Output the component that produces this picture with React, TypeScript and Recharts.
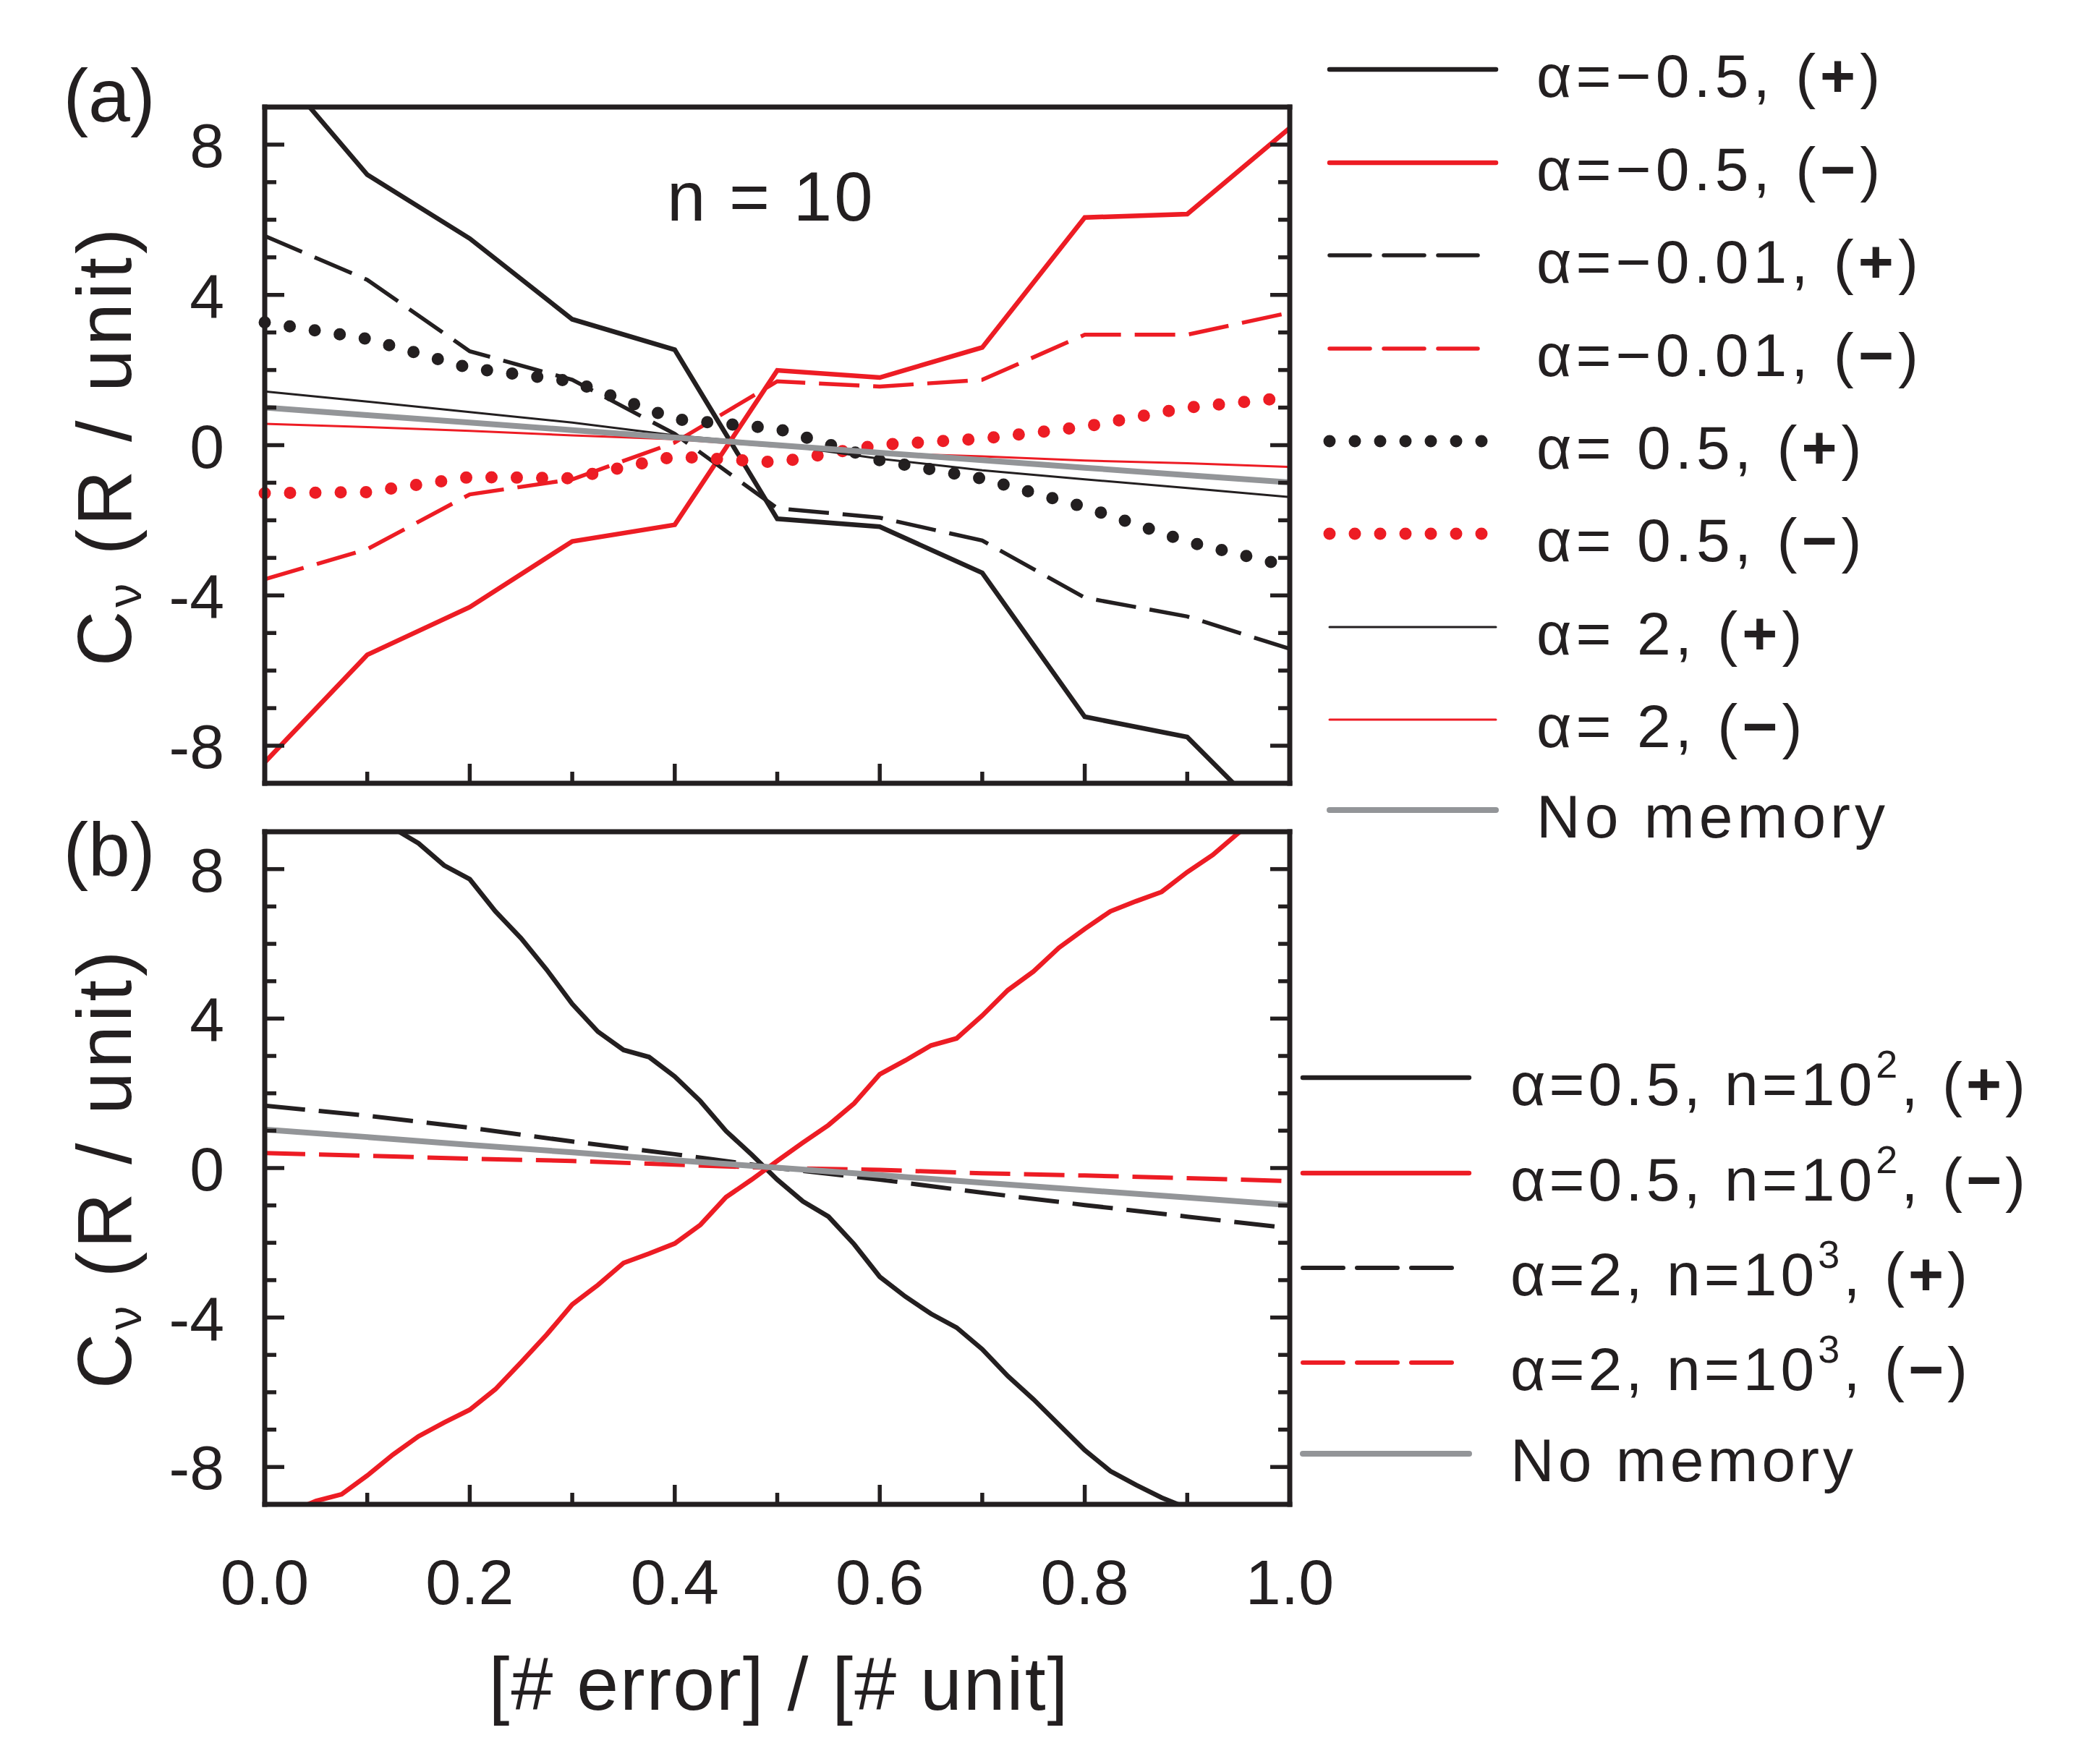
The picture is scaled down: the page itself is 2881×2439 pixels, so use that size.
import React from "react";
import { LineChart, Line, XAxis, YAxis } from "recharts";

const INK = "#231f20";
const RED = "#ed1c24";
const GRAY = "#939598";
const FONT = "'Liberation Sans', Arial, Helvetica, sans-serif";

// ---- panel (a): n = 10 ----
const xA = [0, 0.1, 0.2, 0.3, 0.4, 0.5, 0.6, 0.7, 0.8, 0.9, 1.0];
const aNegHalfPlus = [10.4, 7.2, 5.5, 3.35, 2.54, -1.96, -2.17, -3.4, -7.23, -7.77, -10.5];
const aNegHalfMinus = [-8.44, -5.58, -4.31, -2.56, -2.12, 1.99, 1.8, 2.6, 6.06, 6.15, 8.44];
const aNegSmallPlus = [5.57, 4.4, 2.5, 1.74, 0.3, -1.68, -1.93, -2.54, -4.06, -4.56, -5.42];
const aNegSmallMinus = [-3.57, -2.77, -1.31, -0.91, 0.07, 1.7, 1.56, 1.74, 2.94, 2.94, 3.53];
const aHalfPlus = [3.27, 2.83, 2.05, 1.7, 0.69, 0.44, -0.4, -0.89, -1.65, -2.57, -3.23];
const aHalfMinus = [-1.28, -1.25, -0.85, -0.88, -0.3, -0.46, 0.01, 0.17, 0.49, 1.0, 1.27];
const aTwoPlus = [1.43, 1.16, 0.88, 0.6, 0.26, 0.02, -0.36, -0.67, -0.91, -1.14, -1.38];
const aTwoMinus = [0.57, 0.48, 0.38, 0.26, 0.16, -0.04, -0.21, -0.3, -0.41, -0.48, -0.58];
const aNoMemory = [1.0, 0.8, 0.6, 0.4, 0.2, 0.0, -0.2, -0.4, -0.6, -0.8, -0.99];

// ---- panel (b) ----
const xB = [
  0, 0.025, 0.05, 0.075, 0.1, 0.125, 0.15, 0.175, 0.2, 0.225, 0.25, 0.275, 0.3, 0.325,
  0.35, 0.375, 0.4, 0.425, 0.45, 0.475, 0.5, 0.525, 0.55, 0.575, 0.6, 0.625, 0.65, 0.675,
  0.7, 0.725, 0.75, 0.775, 0.8, 0.825, 0.85, 0.875, 0.9, 0.925, 0.95, 0.975, 1.0,
];
const bHalfPlus = [
  11.0, 10.6, 10.3, 9.9, 9.5, 9.1, 8.69, 8.1, 7.73, 6.87, 6.15, 5.31, 4.39, 3.65,
  3.16, 2.97, 2.45, 1.79, 0.99, 0.36, -0.31, -0.89, -1.3, -2.04, -2.91, -3.44, -3.9, -4.27,
  -4.85, -5.57, -6.19, -6.87, -7.55, -8.11, -8.48, -8.82, -9.1, -9.4, -9.7, -10.0, -10.3,
];
const bHalfMinus = [
  -9.5, -9.2, -8.91, -8.73, -8.23, -7.67, -7.18, -6.81, -6.47, -5.92, -5.2, -4.46, -3.65, -3.13,
  -2.54, -2.29, -2.02, -1.52, -0.78, -0.31, 0.19, 0.68, 1.15, 1.73, 2.51, 2.88, 3.28, 3.47,
  4.08, 4.76, 5.26, 5.9, 6.4, 6.87, 7.14, 7.39, 7.92, 8.38, 8.97, 9.4, 9.9,
];
const xB2 = [0, 0.1, 0.2, 0.3, 0.4, 0.5, 0.6, 0.7, 0.8, 0.9, 1.0];
const bTwoPlus = [1.67, 1.4, 1.08, 0.71, 0.37, 0.0, -0.31, -0.66, -0.99, -1.3, -1.61];
const bTwoMinus = [0.4, 0.33, 0.25, 0.19, 0.09, 0.0, -0.05, -0.14, -0.2, -0.27, -0.35];
const bNoMemory = [1.03, 0.83, 0.62, 0.42, 0.21, 0.01, -0.19, -0.39, -0.59, -0.79, -0.99];

const xTicks = [0, 0.1, 0.2, 0.3, 0.4, 0.5, 0.6, 0.7, 0.8, 0.9, 1.0];
const yTicks = [-8, -7, -6, -5, -4, -3, -2, -1, 0, 1, 2, 3, 4, 5, 6, 7, 8];

const legendA = [
  "α=−0.5, (+)", "α=−0.5, (−)", "α=−0.01, (+)", "α=−0.01, (−)",
  "α= 0.5, (+)", "α= 0.5, (−)", "α= 2, (+)", "α= 2, (−)", "No memory",
];
const legendB = [
  "α=0.5, n=10^2, (+)", "α=0.5, n=10^2, (−)", "α=2, n=10^3, (+)", "α=2, n=10^3, (−)", "No memory",
];

// line looks
const solid = (c: string, w = 6.5) => ({ stroke: c, strokeWidth: w });
const dashed = (c: string, w = 5.5) => ({ stroke: c, strokeWidth: w, strokeDasharray: "56 19" });
const dotted = (c: string) => ({ stroke: c, strokeWidth: 17, strokeDasharray: "0 35", strokeLinecap: "round" as const });

const pts = (xs: number[], ys: number[]) => xs.map((x, i) => ({ x, y: ys[i] }));

const seriesA = [
  { data: pts(xA, aNegHalfPlus), look: solid(INK) },
  { data: pts(xA, aNegHalfMinus), look: solid(RED) },
  { data: pts(xA, aNegSmallPlus), look: dashed(INK) },
  { data: pts(xA, aNegSmallMinus), look: dashed(RED) },
  { data: pts(xA, aHalfPlus), look: dotted(INK) },
  { data: pts(xA, aHalfMinus), look: dotted(RED) },
  { data: pts(xA, aTwoPlus), look: solid(INK, 3) },
  { data: pts(xA, aTwoMinus), look: solid(RED, 3) },
  { data: pts(xA, aNoMemory), look: solid(GRAY, 8) },
];

const seriesB = [
  { data: pts(xB, bHalfPlus), look: solid(INK, 6.5) },
  { data: pts(xB, bHalfMinus), look: solid(RED, 6.5) },
  { data: pts(xB2, bTwoPlus), look: dashed(INK, 6) },
  { data: pts(xB2, bTwoMinus), look: dashed(RED, 6) },
  { data: pts(xB2, bNoMemory), look: solid(GRAY, 8) },
];

const MAJOR = 27;
const MINOR = 16;
const tickLook = { stroke: INK, strokeWidth: 5.5 };
const isMajorX = (v: number) => Math.abs(v * 5 - Math.round(v * 5)) < 1e-6;
const isMajorY = (v: number) => v % 4 === 0;

const bottomTick = (labels: boolean) => (p: any) => {
  const v = p.payload.value;
  const major = isMajorX(v);
  return (
    <g>
      <line x1={p.x} x2={p.x} y1={p.y} y2={p.y - (major ? MAJOR : MINOR)} {...tickLook} />
      {labels && major && (
        <text x={p.x} y={p.y + 138} textAnchor="middle" fontSize={88} fill={INK} fontFamily={FONT}>
          {v.toFixed(1)}
        </text>
      )}
    </g>
  );
};

const topTick = (p: any) => {
  const major = isMajorX(p.payload.value);
  return <line x1={p.x} x2={p.x} y1={p.y} y2={p.y + (major ? MAJOR : MINOR)} {...tickLook} />;
};

const leftTick = (p: any) => {
  const v = p.payload.value;
  const major = isMajorY(v);
  return (
    <g>
      <line x1={p.x} x2={p.x + (major ? MAJOR : MINOR)} y1={p.y} y2={p.y} {...tickLook} />
      {major && (
        <text x={p.x - 56} y={p.y + 31} textAnchor="end" fontSize={86} fill={INK} fontFamily={FONT}>
          {String(v)}
        </text>
      )}
    </g>
  );
};

const rightTick = (p: any) => {
  const major = isMajorY(p.payload.value);
  return <line x1={p.x} x2={p.x - (major ? MAJOR : MINOR)} y1={p.y} y2={p.y} {...tickLook} />;
};

const frame = { stroke: INK, strokeWidth: 7, strokeLinecap: "square" as const };

// axes get 1px of room each (a zero-size axis is not drawn), margins make up the rest
const Panel = ({ series, height, top, marginTop, marginBottom, labels }: any) => (
  <div style={{ position: "absolute", left: 0, top }}>
    <LineChart
      width={2881}
      height={height}
      margin={{ top: marginTop - 1, bottom: marginBottom - 1, left: 365, right: 1097 }}
    >
      <XAxis xAxisId="b" dataKey="x" type="number" domain={[0, 1]} ticks={xTicks} interval={0}
        height={1} tickSize={0} tickMargin={0} tickLine={false} axisLine={frame} tick={bottomTick(labels)} />
      <XAxis xAxisId="t" orientation="top" dataKey="x" type="number" domain={[0, 1]} ticks={xTicks} interval={0}
        height={1} tickSize={0} tickMargin={0} tickLine={false} axisLine={frame} tick={topTick} />
      <YAxis yAxisId="l" type="number" domain={[-9, 9]} allowDataOverflow ticks={yTicks} interval={0}
        width={1} tickSize={0} tickMargin={0} tickLine={false} axisLine={frame} tick={leftTick} />
      <YAxis yAxisId="r" orientation="right" type="number" domain={[-9, 9]} allowDataOverflow ticks={yTicks} interval={0}
        width={1} tickSize={0} tickMargin={0} tickLine={false} axisLine={frame} tick={rightTick} />
      {series.map((s: any, i: number) => (
        <Line key={i} xAxisId="b" yAxisId="l" data={s.data} dataKey="y" type="linear"
          dot={false} activeDot={false} isAnimationActive={false} {...s.look} />
      ))}
    </LineChart>
  </div>
);

const renderLabel = (s: string) => {
  let lift = 0;
  return s.split(/(\^\d|\(\+\)|\(−\))/).filter((p) => p !== "").map((part, i) => {
    const back = lift;
    lift = 0;
    if (part.startsWith("^")) {
      lift = 38;
      return <tspan key={i} dy={-38 + back} fontSize={54}>{part.slice(1)}</tspan>;
    }
    if (part === "(+)" || part === "(−)") {
      return (
        <React.Fragment key={i}>
          <tspan dy={back}>(</tspan>
          <tspan fontWeight="bold">{part[1]}</tspan>
          <tspan>)</tspan>
        </React.Fragment>
      );
    }
    return <tspan key={i} dy={back}>{part}</tspan>;
  });
};

const LegendBlock = ({ labels, looks, rowY, x0, x1, dashEnd, tx, spacing }: any) => (
  <g>
    {labels.map((lab: string, i: number) => {
      const look = looks[i];
      const end = look.strokeDasharray && look.strokeDasharray !== "0 35" ? dashEnd : x1;
      return (
        <g key={lab}>
          <line x1={x0} x2={end} y1={rowY[i]} y2={rowY[i]} {...look}
            strokeLinecap={look.strokeLinecap || "round"} />
          <text x={tx} y={rowY[i] + 38} fontSize={84} fill={INK} fontFamily={FONT}
            letterSpacing={spacing} xmlSpace="preserve">
            {renderLabel(lab)}
          </text>
        </g>
      );
    })}
  </g>
);

const legendRowsA = [96, 225, 353, 482, 610, 738, 867, 995, 1120];
const legendRowsB = [1490, 1622, 1753, 1884, 2010];

export default function App() {
  return (
    <div style={{ position: "absolute", left: 0, top: 0, width: 2881, height: 2439, background: "#fff", fontFamily: FONT }}>
      <Panel series={seriesA} top={0} height={1120} marginTop={148} marginBottom={37} labels={false} />
      <Panel series={seriesB} top={1100} height={1339} marginTop={50} marginBottom={359} labels={true} />
      <svg width={2881} height={2439} style={{ position: "absolute", left: 0, top: 0, pointerEvents: "none" }}>
        <text x={151} y={168} textAnchor="middle" fontSize={104} fill={INK} fontFamily={FONT}>(a)</text>
        <text x={151} y={1210} textAnchor="middle" fontSize={104} fill={INK} fontFamily={FONT}>(b)</text>
        <text x={922} y={305} fontSize={96} fill={INK} fontFamily={FONT} letterSpacing={3} xmlSpace="preserve">n = 10</text>
        {[616, 1615].map((cy) => (
          <text key={cy} transform={`translate(181, ${cy}) rotate(-90)`} textAnchor="middle"
            fontSize={106} fill={INK} fontFamily={FONT} letterSpacing={5}>
            C<tspan fontSize={66} dy={14}>ν</tspan><tspan dy={-14}> (R / unit)</tspan>
          </text>
        ))}
        <text x={1077} y={2364} textAnchor="middle" fontSize={104} fill={INK} fontFamily={FONT} letterSpacing={2}>
          [# error] / [# unit]
        </text>
        <LegendBlock labels={legendA} looks={seriesA.map((s) => s.look)} rowY={legendRowsA}
          x0={1838} x1={2068} dashEnd={2043} tx={2124} spacing={6} />
        <LegendBlock labels={legendB} looks={seriesB.map((s) => s.look)} rowY={legendRowsB}
          x0={1801} x1={2031} dashEnd={2007} tx={2088} spacing={5} />
      </svg>
    </div>
  );
}
